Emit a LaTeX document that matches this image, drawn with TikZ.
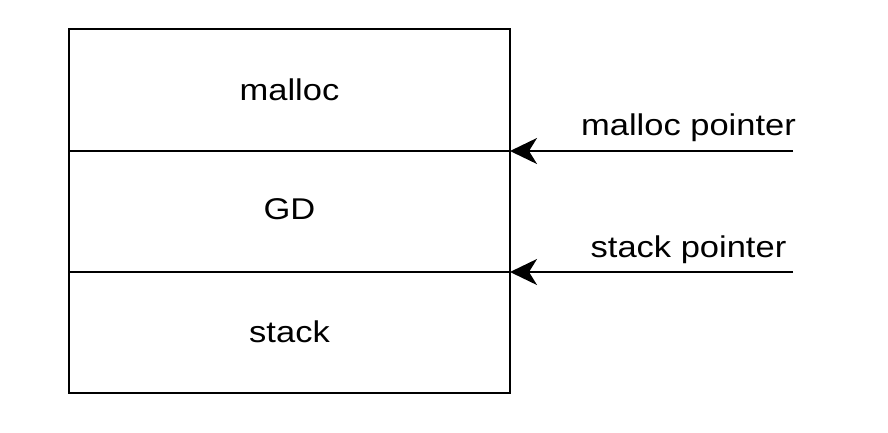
\documentclass[tikz,border=0pt]{standalone}
\usepackage{fontspec}
\setmainfont{Liberation Sans}
\usetikzlibrary{arrows.meta}
\begin{document}
\begin{tikzpicture}[x=1pt,y=-1pt,line width=2pt,
  cell/.style={draw,line width=2pt,minimum width=441pt,inner sep=0pt,outer sep=0pt},
  lbl/.style={anchor=base,inner sep=0pt,font=\fontsize{30}{35}\selectfont},
  ptr/.style={-{Stealth[length=27pt,width=26pt,inset=8pt]}}]
\useasboundingbox (0,0) rectangle (888,432);
\node[cell,minimum height=122pt] (ca) at (289.5,90) {};
\node[cell,minimum height=121pt] (cb) at (289.5,211.5) {};
\node[cell,minimum height=121pt] (cc) at (289.5,332.5) {};
\node[lbl] (ta) at (289.5,100) {\scalebox{1.15}[1]{malloc}};
\node[lbl] (tb) at (289.5,219) {\scalebox{1.15}[1]{GD}};
\node[lbl] (tc) at (289.5,342) {\scalebox{1.15}[1]{stack}};
\coordinate (ma) at (793,151);
\coordinate (sa) at (793,272);
\draw[ptr] (ma) -- (ca.south east);
\draw[ptr] (sa) -- (cb.south east);
\node[lbl] (mp) at (688.5,135) {\scalebox{1.15}[1]{malloc pointer}};
\node[lbl] (sp) at (688.5,257) {\scalebox{1.15}[1]{stack pointer}};
\end{tikzpicture}
\end{document}
